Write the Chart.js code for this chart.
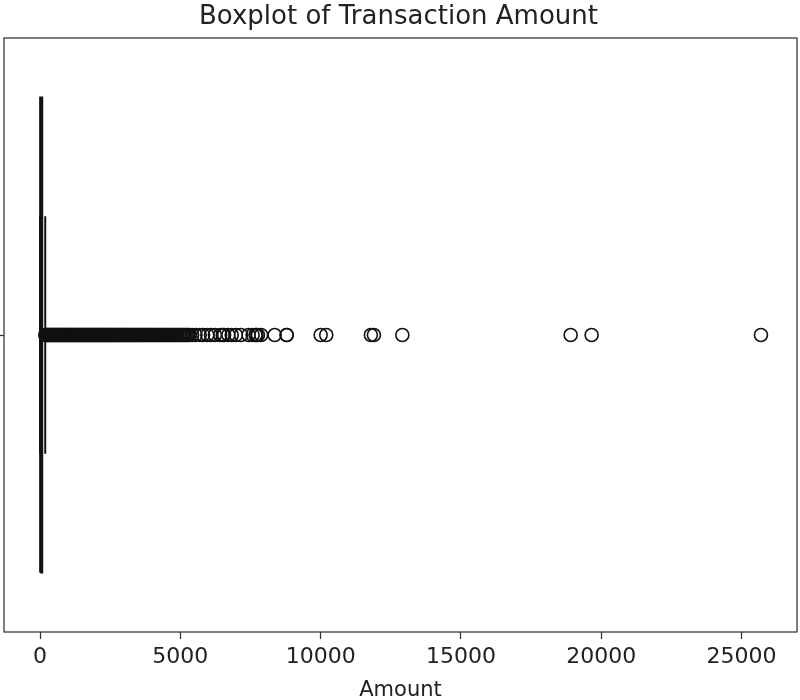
<!DOCTYPE html>
<html>
<head>
<meta charset="utf-8">
<title>Boxplot of Transaction Amount</title>
<script src="https://cdn.jsdelivr.net/npm/chart.js@4/dist/chart.umd.min.js"></script>
<style>
  html, body { margin: 0; padding: 0; background: #ffffff; }
  #wrap { width: 800px; height: 700px; }
</style>
</head>
<body>
<div id="wrap"><canvas id="chart" width="800" height="700"></canvas></div>
<script>
// ---- data ----
const chartTitle = 'Boxplot of Transaction Amount';
const axisLabel = 'Amount';
const xTickValues = [0, 5000, 10000, 15000, 20000, 25000];
const xRange = [-1285, 26976];

// five-number summary of the box
const q1 = 5.6;
const median = 22;
const q3 = 77.165;
const whiskerLow = 0;
const whiskerHigh = 184.5;

// amounts beyond the upper whisker
const outlierAmounts = [
  186, 213, 241, 269, 296, 325, 352, 381, 409, 437, 466, 495, 522, 551, 580, 608, 636, 664, 693, 722,
  750, 779, 807, 836, 865, 893, 922, 951, 980, 1009, 1038, 1066, 1095, 1124, 1153, 1182, 1211, 1240, 1269, 1298,
  1327, 1356, 1386, 1415, 1444, 1473, 1503, 1532, 1562, 1591, 1621, 1650, 1680, 1710, 1740, 1770, 1800, 1830, 1860, 1890,
  1921, 1951, 1982, 2012, 2043, 2074, 2105, 2136, 2167, 2198, 2230, 2261, 2293, 2325, 2357, 2389, 2421, 2453, 2486, 2518,
  2551, 2584, 2617, 2650, 2684, 2717, 2751, 2785, 2819, 2853, 2887, 2922, 2956, 2991, 3026, 3061, 3097, 3132, 3168, 3204,
  3240, 3276, 3313, 3349, 3386, 3423, 3460, 3498, 3535, 3573, 3611, 3649, 3688, 3726, 3765, 3804, 3843, 3883, 3922, 3962,
  4002, 4043, 4083, 4124, 4165, 4206, 4248, 4290, 4332, 4374, 4416, 4459, 4502, 4545, 4589, 4633, 4677, 4721, 4766, 4811,
  4856, 4902, 4948, 4994, 5041, 5088, 5135, 5183, 5231, 5280, 5330,
  5420, 5540, 5690, 5810, 5960, 6090, 6230, 6420, 6510, 6560, 6710, 6830, 6980, 7160, 7430,
  7575.54, 7678.18, 7712.43, 7766.6, 7879.42, 8360, 8787, 8790.26,
  10000, 10199.44, 11789.84, 11898.09, 12910.93, 18910, 19656.53, 25691.16
];

// ---- drawing ----
const ink = '#111111';
const textColor = '#222222';
const boxHalf = 0.4;   // box spans 0.8 of the category band
const capHalf = 0.2;   // caps are half the box height

Chart.defaults.font.family = "'DejaVu Sans', sans-serif";
Chart.defaults.color = textColor;

const segment = (pts) => ({
  type: 'scatter',
  data: pts,
  showLine: true,
  borderColor: ink,
  borderWidth: 2,
  pointRadius: 0,
  pointHoverRadius: 0,
  fill: false,
  tension: 0
});

const frame = {
  id: 'frame',
  afterDatasetsDraw(chart) {
    const { ctx, chartArea: a } = chart;
    ctx.save();
    ctx.strokeStyle = '#333333';
    ctx.lineWidth = 1.25;
    ctx.strokeRect(a.left, a.top, a.right - a.left, a.bottom - a.top);
    ctx.restore();
  }
};

new Chart(document.getElementById('chart'), {
  type: 'scatter',
  data: {
    datasets: [
      segment([{ x: q1, y: -boxHalf }, { x: q3, y: -boxHalf }, { x: q3, y: boxHalf }, { x: q1, y: boxHalf }, { x: q1, y: -boxHalf }]),
      segment([{ x: median, y: -boxHalf }, { x: median, y: boxHalf }]),
      segment([{ x: whiskerLow, y: 0 }, { x: q1, y: 0 }]),
      segment([{ x: q3, y: 0 }, { x: whiskerHigh, y: 0 }]),
      segment([{ x: whiskerLow, y: -capHalf }, { x: whiskerLow, y: capHalf }]),
      segment([{ x: whiskerHigh, y: -capHalf }, { x: whiskerHigh, y: capHalf }]),
      {
        type: 'scatter',
        data: outlierAmounts.map(v => ({ x: v, y: 0 })),
        showLine: false,
        pointStyle: 'circle',
        pointRadius: 6.5,
        pointBorderWidth: 1.6,
        pointBorderColor: ink,
        pointBackgroundColor: 'rgba(255,255,255,0)'
      }
    ]
  },
  options: {
    responsive: false,
    animation: false,
    devicePixelRatio: 1,
    layout: { autoPadding: false, padding: { left: 0, right: 3, top: 0, bottom: 0 } },
    plugins: {
      legend: { display: false },
      tooltip: { enabled: false },
      title: {
        display: true,
        text: chartTitle,
        color: textColor,
        font: { size: 26, weight: 'normal' },
        padding: { top: 2, bottom: 4.8 }
      }
    },
    scales: {
      x: {
        type: 'linear',
        min: xRange[0],
        max: xRange[1],
        afterBuildTicks: (s) => { s.ticks = xTickValues.map(v => ({ value: v })); },
        afterFit: (s) => { s.height = 68; s.paddingLeft = 0; s.paddingRight = 0; },
        border: { display: false },
        grid: { display: true, drawOnChartArea: false, drawTicks: true, tickLength: 7, tickColor: '#333333', tickWidth: 1.25 },
        ticks: { color: textColor, font: { size: 22 }, padding: 5, maxRotation: 0, callback: (v) => String(v) },
        title: { display: true, text: axisLabel, color: textColor, font: { size: 21 }, padding: { top: 0, bottom: -3 } }
      },
      y: {
        type: 'linear',
        min: -0.5,
        max: 0.5,
        afterBuildTicks: (s) => { s.ticks = [{ value: 0 }]; },
        afterFit: (s) => { s.width = 4; s.paddingTop = 0; s.paddingBottom = 0; },
        border: { display: false },
        grid: { display: true, drawOnChartArea: false, drawTicks: true, tickLength: 4, tickColor: '#333333', tickWidth: 1.25 },
        ticks: { display: false }
      }
    }
  },
  plugins: [frame]
});
</script>
</body>
</html>
